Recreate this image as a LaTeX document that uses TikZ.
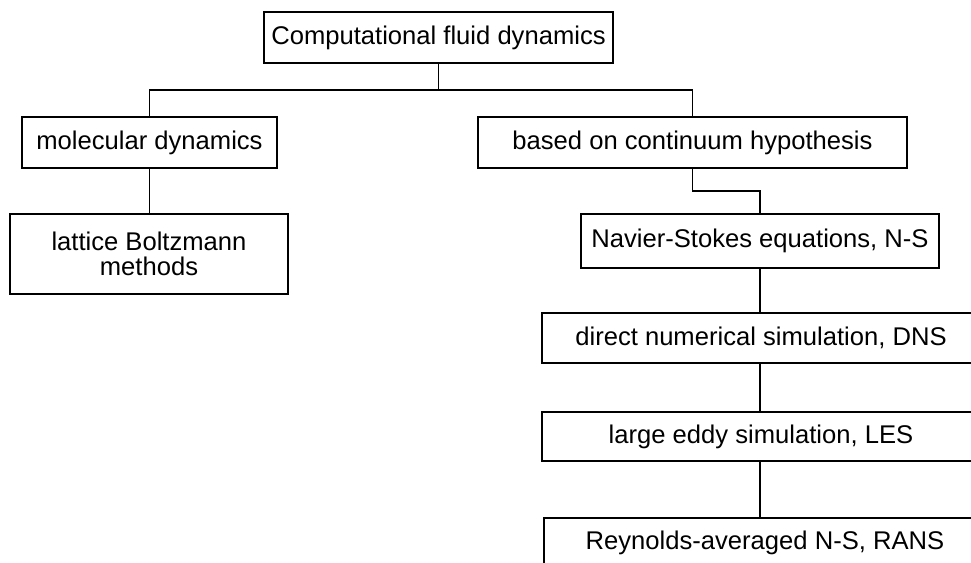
\documentclass[tikz,border=0pt]{standalone}
\usepackage{fontspec}
\setmainfont{Liberation Sans}
\usepackage{tikz}
\usetikzlibrary{calc}

\begin{document}
\begin{tikzpicture}[x=0.5pt, y=-0.5pt,
    box/.style={draw, line width=0.8pt, inner sep=0pt, align=center,
      font=\fontsize{12.8}{12.5}\selectfont},
    link/.style={line width=0.8pt}]
  \useasboundingbox (0,0) rectangle (971,563);
  \clip (0,0) rectangle (971,563);
  % top level
  \node[box, minimum width=174.5pt, minimum height=25.5pt] (cfd) at (438.5,37.5) {Computational fluid dynamics};
  \coordinate (split) at (438.5,90);
  % left branch
  \node[box, minimum width=127.5pt, minimum height=25.5pt] (md) at (149.5,142.5) {molecular dynamics};
  \node[box, minimum width=139pt, minimum height=40pt] (lbm) at (149,254) {lattice Boltzmann\\methods};
  % right branch
  \node[box, minimum width=214.5pt, minimum height=25.5pt] (cont) at (692.5,142.5) {based on continuum hypothesis};
  \coordinate (jog) at (692.5,191);
  \node[box, minimum width=179pt, minimum height=27pt] (ns) at (760,241) {Navier-Stokes equations, N-S};
  \node[box, minimum width=219pt, minimum height=25pt] (dns) at (761,338) {direct numerical simulation, DNS};
  \node[box, minimum width=219pt, minimum height=24.5pt] (les) at (761,436.5) {large eddy simulation, LES};
  \node[box, minimum width=221pt, minimum height=25pt] (rans) at (765,543) {Reynolds-averaged N-S, RANS};
  % connectors
  \draw[link] (cfd.south) -- (split);
  \draw[link] (md.north) |- (split) -| (cont.north);
  \draw[link] (md.south) -- (md.south |- lbm.north);
  \draw[link] (cont.south) -- (jog) -| (ns.north);
  \draw[link] (ns.south) -- (ns.south |- dns.north);
  \draw[link] (ns.south |- dns.south) -- (ns.south |- les.north);
  \draw[link] (ns.south |- les.south) -- (ns.south |- rans.north);
\end{tikzpicture}
\end{document}
